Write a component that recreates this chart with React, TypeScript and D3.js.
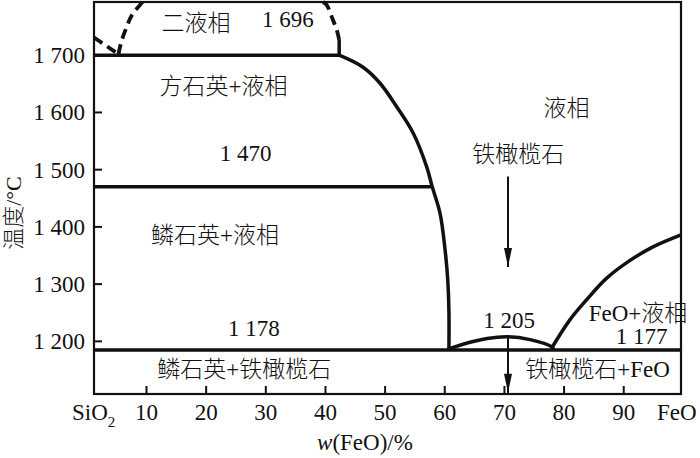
import React from "react";
import * as d3 from "d3";

// ---- data (w(FeO) %, temperature °C) ----
const xTicks = [10, 20, 30, 40, 50, 60, 70, 80, 90];
const yTicks = [1200, 1300, 1400, 1500, 1600, 1700];
const yTickLabels = ["1 200", "1 300", "1 400", "1 500", "1 600", "1 700"];
const xDomain = [1.2, 99.6];
const yDomain = [1108, 1793];

const line1700 = [[1.2, 1700], [42.3, 1700]];
const line1470 = [[1.2, 1470], [57.9, 1470]];
const line1178 = [[1.2, 1185], [99.6, 1185]];

const silicaLiquidus = [
  [42.3, 1700], [46.3, 1679], [49.15, 1651], [52.0, 1609], [54.7, 1564],
  [57.0, 1504], [57.9, 1470], [59.2, 1424], [60.0, 1365], [60.5, 1307],
  [60.7, 1250], [60.7, 1188], [60.7, 1185],
];
const faDome = [
  [60.5, 1186], [63.05, 1195], [67.1, 1205], [70.6, 1208], [74.3, 1203], [78.0, 1190], [78.3, 1185],
];
const feoLiquidus = [
  [77.9, 1188], [81.0, 1238], [83.8, 1273], [87.1, 1310], [91.0, 1341], [94.9, 1365], [99.6, 1386],
];
const leftDash = [[1.2, 1731], [5.3, 1702]];
const domeLeft = [[5.3, 1702], [5.86, 1726], [6.7, 1750], [7.54, 1770], [8.93, 1788], [9.3, 1793]];
const domeRight = [[39.6, 1793], [40.2, 1788], [41.05, 1767], [41.9, 1744], [42.3, 1727]];
const domeStem = [[42.3, 1727], [42.3, 1700]];

const arrow1 = [[70.6, 1488], [70.6, 1330]];
const arrow2 = [[70.6, 1208], [70.6, 1110]];

const labels = [
  { t: "二液相", x: 18.3, y: 1743 },
  { t: "1 696", x: 33.7, y: 1750 },
  { t: "方石英+液相", x: 22.9, y: 1632 },
  { t: "1 470", x: 26.6, y: 1515 },
  { t: "鳞石英+液相", x: 21.5, y: 1371 },
  { t: "1 178", x: 28.0, y: 1209 },
  { t: "鳞石英+铁橄榄石", x: 26.4, y: 1138 },
  { t: "液相", x: 80.4, y: 1593 },
  { t: "铁橄榄石", x: 72.3, y: 1514 },
  { t: "1 205", x: 70.8, y: 1224 },
  { t: "FeO+液相", x: 92.4, y: 1235 },
  { t: "1 177", x: 93.0, y: 1195 },
  { t: "铁橄榄石+FeO", x: 85.6, y: 1138 },
];

const FONT = "'Liberation Serif', 'Noto Sans CJK SC', serif";
const hasCJK = (s: string) => /[\u4e00-\u9fff]/.test(s);

export default function App() {
  const x = d3.scaleLinear().domain(xDomain).range([94, 681]);
  const y = d3.scaleLinear().domain(yDomain).range([394, 2]);
  const straight = d3.line().x((d: any) => x(d[0])).y((d: any) => y(d[1]));
  const smooth = d3
    .line()
    .x((d: any) => x(d[0]))
    .y((d: any) => y(d[1]))
    .curve(d3.curveCatmullRom.alpha(0.5));

  const arrowHead = (a: number[][]) => {
    const tx = x(a[1][0]);
    const ty = y(a[1][1]);
    return `M${tx},${ty} L${tx - 4},${ty - 19} L${tx + 4},${ty - 19} Z`;
  };

  const x0 = x(xDomain[0]);
  const x1 = x(xDomain[1]);
  const y0 = y(yDomain[0]);
  const y1 = y(yDomain[1]);

  return (
    <svg
      width={700}
      height={458}
      style={{ position: "absolute", left: 0, top: 0, background: "#fff" }}
      fontFamily={FONT}
    >
      <rect x={0} y={0} width={700} height={458} fill="#fff" />
      {/* frame */}
      <rect x={x0} y={y1} width={x1 - x0} height={y0 - y1} fill="none" stroke="#111" strokeWidth={2.2} />
      {/* ticks */}
      {xTicks.map((t) => (
        <line key={"xt" + t} x1={x(t)} x2={x(t)} y1={y0} y2={y0 - 8} stroke="#111" strokeWidth={2} />
      ))}
      {yTicks.map((t) => (
        <line key={"yt" + t} x1={x0} x2={x0 + 8} y1={y(t)} y2={y(t)} stroke="#111" strokeWidth={2} />
      ))}
      {/* tick labels */}
      {xTicks.map((t) => (
        <text key={"xl" + t} x={x(t)} y={420} fontSize={23} textAnchor="middle" fill="#111">
          {t}
        </text>
      ))}
      {yTicks.map((t, i) => (
        <text key={"yl" + t} x={85} y={y(t)} dy="0.35em" fontSize={23} textAnchor="end" fill="#111">
          {yTickLabels[i]}
        </text>
      ))}
      <text x={72} y={420} fontSize={23} fill="#111">
        SiO<tspan dy={7} fontSize={15}>2</tspan>
      </text>
      <text x={657} y={420} fontSize={23} fill="#111">FeO</text>
      <text x={365} y={450} fontSize={23} textAnchor="middle" fill="#111">
        <tspan fontStyle="italic">w</tspan>(FeO)/%
      </text>
      <text
        transform="translate(21,213) rotate(-90)"
        fontSize={22}
        fontWeight={300}
        textAnchor="middle"
        fill="#111"
      >
        温度/°C
      </text>

      {/* phase boundaries */}
      <g fill="none" stroke="#111" strokeLinecap="butt">
        <path d={straight(line1700 as any)!} strokeWidth={3.5} />
        <path d={straight(line1470 as any)!} strokeWidth={3.5} />
        <path d={straight(line1178 as any)!} strokeWidth={3.5} />
        <path d={smooth(silicaLiquidus as any)!} strokeWidth={3.5} />
        <path d={smooth(faDome as any)!} strokeWidth={3.5} />
        <path d={smooth(feoLiquidus as any)!} strokeWidth={3.5} />
        <path d={straight(leftDash as any)!} strokeWidth={3.8} strokeDasharray="10,6" />
        <path d={smooth(domeLeft as any)!} strokeWidth={3.8} strokeDasharray="10,6" />
        <path d={smooth(domeRight as any)!} strokeWidth={3.8} strokeDasharray="10,6" />
        <path d={straight(domeStem as any)!} strokeWidth={3.5} />
        <path d={straight(arrow1 as any)!} strokeWidth={2} />
        <path d={straight(arrow2 as any)!} strokeWidth={2} />
      </g>
      <path d={arrowHead(arrow1)} fill="#111" />
      <path d={arrowHead(arrow2)} fill="#111" />

      {/* region labels */}
      {labels.map((l) => (
        <text
          key={l.t}
          x={x(l.x)}
          y={y(l.y)}
          fontSize={23}
          fontWeight={hasCJK(l.t) ? 300 : 400}
          textAnchor="middle"
          fill="#111"
        >
          {l.t}
        </text>
      ))}
    </svg>
  );
}
